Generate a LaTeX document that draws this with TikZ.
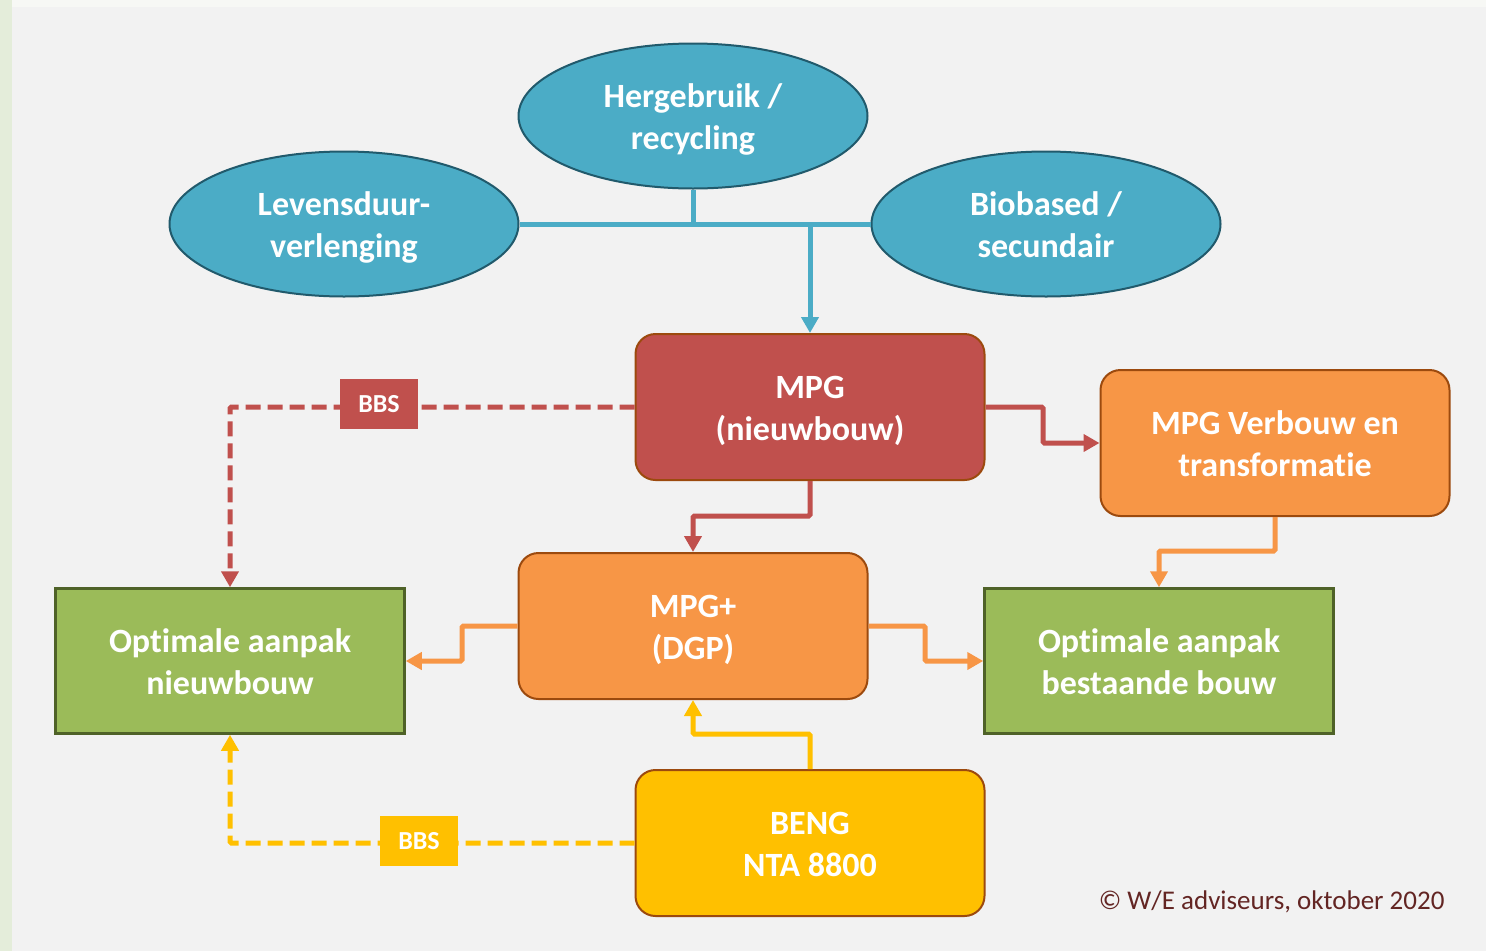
\documentclass[tikz,border=0pt]{standalone}
\usepackage{fontspec}
\setmainfont{Carlito}[Ligatures=NoCommon]
\usetikzlibrary{shapes.geometric,arrows.meta}
\definecolor{bgpanel}{HTML}{F2F2F2}
\definecolor{bgleaf}{HTML}{E4EDDA}
\definecolor{bgtop}{HTML}{F7F8F5}
\definecolor{teal}{HTML}{4BACC6}
\definecolor{tealdark}{HTML}{215A6C}
\definecolor{mpgred}{HTML}{C0504D}
\definecolor{boxbrd}{HTML}{9C4A0E}
\definecolor{orng}{HTML}{F79646}
\definecolor{yel}{HTML}{FFC000}
\definecolor{grn}{HTML}{9BBB59}
\definecolor{grndark}{HTML}{4F6228}
\definecolor{copyc}{HTML}{632523}
\tikzset{
  x=1pt, y=-1pt,
  lbl/.style={text=white, font=\fontsize{34}{42}\selectfont\bfseries, align=center, text height=72pt, text depth=5pt},
  oval/.style={ellipse, draw=tealdark, line width=2pt, fill=teal, lbl, minimum width=349pt, minimum height=145pt, inner sep=0pt},
  rbox/.style={rounded corners=20pt, draw=boxbrd, line width=2pt, lbl, minimum width=349pt, minimum height=146pt, inner sep=0pt},
  gbox/.style={draw=grndark, line width=2.5pt, fill=grn, lbl, minimum width=349pt, minimum height=145pt, inner sep=0pt},
  conn/.style={line width=5pt, rounded corners=1.5pt, -{Triangle[width=17pt,length=16pt]}},
  dconn/.style={conn, dash pattern=on 15pt off 7pt},
  bbs/.style={text=white, font=\fontsize{26}{30}\selectfont\bfseries, minimum width=78pt, minimum height=50pt, inner sep=0pt}
}
\begin{document}
\begin{tikzpicture}
\useasboundingbox (0,0) rectangle (1486,951);
\fill[bgleaf] (0,0) rectangle (1486,951);
\fill[bgtop] (12,0) rectangle (1486,7);
\fill[bgpanel] (12,7) rectangle (1486,951);

% ovals
\node[oval] (herg) at (693,116) {Hergebruik /\\recycling};
\node[oval] (lev) at (344,224) {Levensduur-\\verlenging};
\node[oval] (bio) at (1046,224) {Biobased /\\secundair};

% boxes
\node[rbox, fill=mpgred] (mpg) at (810,407) {MPG\\(nieuwbouw)};
\node[rbox, fill=orng] (verb) at (1275,443) {MPG Verbouw en\\transformatie};
\node[rbox, fill=orng] (dgp) at (693,626) {MPG+\\(DGP)};
\node[rbox, fill=yel] (beng) at (810,843) {BENG\\NTA 8800};
\node[gbox] (optn) at (230,661) {Optimale aanpak\\nieuwbouw};
\node[gbox] (optb) at (1159,661) {Optimale aanpak\\bestaande bouw};

% teal connectors
\coordinate (tj) at (693,224);
\coordinate (ta) at (810,224);
\draw[teal, line width=5pt] (lev.east) -- (bio.west);
\draw[teal, line width=5pt] (herg.south) -- (tj);
\draw[teal, conn] (ta) -- (mpg.north);

% red connectors
\draw[mpgred, conn] (mpg.east) -- (1043,407) -- (1043,443) -- (verb.west);
\draw[mpgred, conn] (mpg.south) -- (810,516) -- (693,516) -- (dgp.north);
\draw[mpgred, dconn] (mpg.west) -- (230,407) -- (optn.north);
\node[bbs, fill=mpgred] (bbs1) at (379,404) {BBS};

% orange connectors
\draw[orng, conn] (verb.south) -- (1275,551) -- (1159,551) -- (optb.north);
\draw[orng, conn] (dgp.west) -- (462,626) -- (462,661) -- (optn.east);
\draw[orng, conn] (dgp.east) -- (925,626) -- (925,661) -- (optb.west);

% yellow connectors
\draw[yel, conn] (beng.north) -- (810,734) -- (693,734) -- (dgp.south);
\draw[yel, dconn] (beng.west) -- (230,843) -- (optn.south);
\node[bbs, fill=yel] (bbs2) at (419,841) {BBS};

\node[text=copyc, font=\fontsize{27}{32}\selectfont, anchor=east] (copy) at (1448,902) {© W/E adviseurs, oktober 2020};
\end{tikzpicture}
\end{document}
